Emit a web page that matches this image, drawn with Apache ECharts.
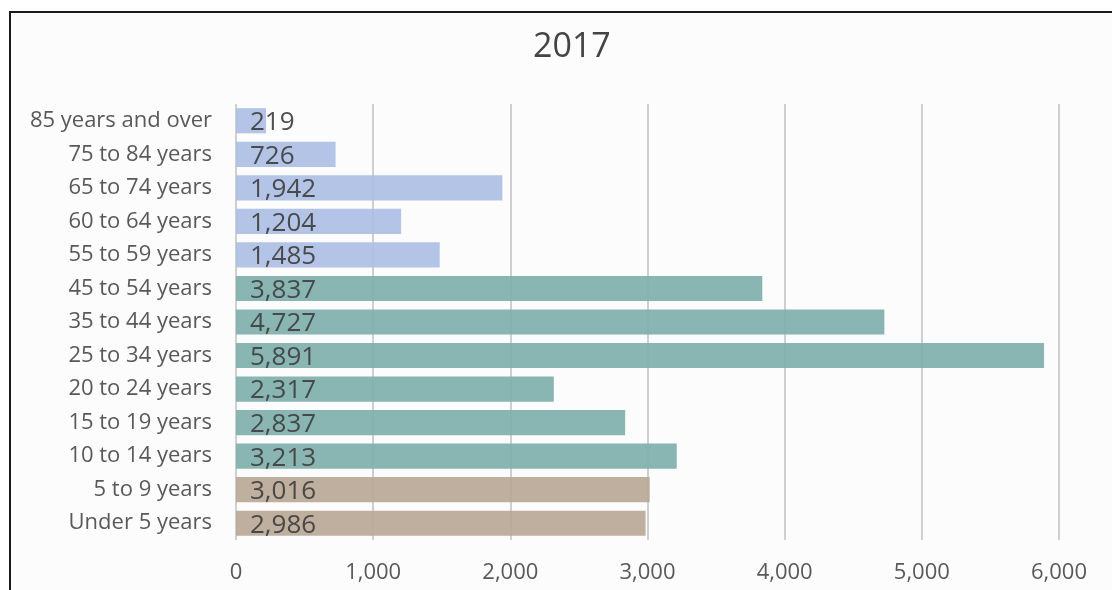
<!DOCTYPE html>
<html>
<head>
<meta charset="utf-8">
<script src="https://cdn.jsdelivr.net/npm/echarts@6/dist/echarts.min.js"></script>
<style>
html,body{margin:0;padding:0;background:#fff;}
#frame{position:absolute;left:9px;top:11px;width:1110px;height:590px;border-left:2px solid #1a1a1a;border-top:2px solid #1a1a1a;background:#fcfcfc;}
#chart{position:absolute;left:0;top:0;width:1112px;height:590px;}
</style>
</head>
<body>
<div id="frame"></div>
<div id="chart"></div>
<script>
const title = "2017";
const categories = ["85 years and over","75 to 84 years","65 to 74 years","60 to 64 years","55 to 59 years","45 to 54 years","35 to 44 years","25 to 34 years","20 to 24 years","15 to 19 years","10 to 14 years","5 to 9 years","Under 5 years"];
const values = [219,726,1942,1204,1485,3837,4727,5891,2317,2837,3213,3016,2986];
const groups = ["older","older","older","older","older","working","working","working","working","working","working","young","young"];
const xTicks = [0,1000,2000,3000,4000,5000,6000];

const groupColors = {older:"#aebfe4", working:"#7fb0ac", young:"#b8a896"};
const chart = echarts.init(document.getElementById('chart'), null, {renderer:'canvas'});
const fmt = v => v.toLocaleString('en-US');
chart.setOption({
  backgroundColor:'transparent',
  animation:false,
  title:{text:title,left:528,top:25,textStyle:{fontFamily:'Open Sans',fontSize:34,fontWeight:'normal',color:'#444'}},
  grid:{left:236,right:53,top:104,bottom:50,containLabel:false},
  xAxis:{type:'value',min:xTicks[0],max:xTicks[xTicks.length-1],interval:1000,
    axisLine:{show:false},axisTick:{show:false},
    axisLabel:{formatter:v=>fmt(v),fontFamily:'Open Sans',fontSize:22,color:'#595959',margin:22},
    splitLine:{show:true,lineStyle:{color:'#cfcfcf',width:2}}},
  yAxis:{type:'category',data:categories,inverse:true,
    axisLine:{show:false},axisTick:{show:false},
    axisLabel:{fontFamily:'Open Sans',fontSize:22,color:'#595959',margin:24}},
  series:[{type:'bar',barCategoryGap:'25%',
    data:values.map((v,i)=>({value:v,itemStyle:{color:groupColors[groups[i]]}})),
    itemStyle:{opacity:0.92},
    label:{show:true,position:'insideLeft',distance:14,offset:[0,2],formatter:p=>fmt(p.value),
      fontFamily:'Open Sans',fontSize:26,color:'#404040'}}]
});
</script>
</body>
</html>
